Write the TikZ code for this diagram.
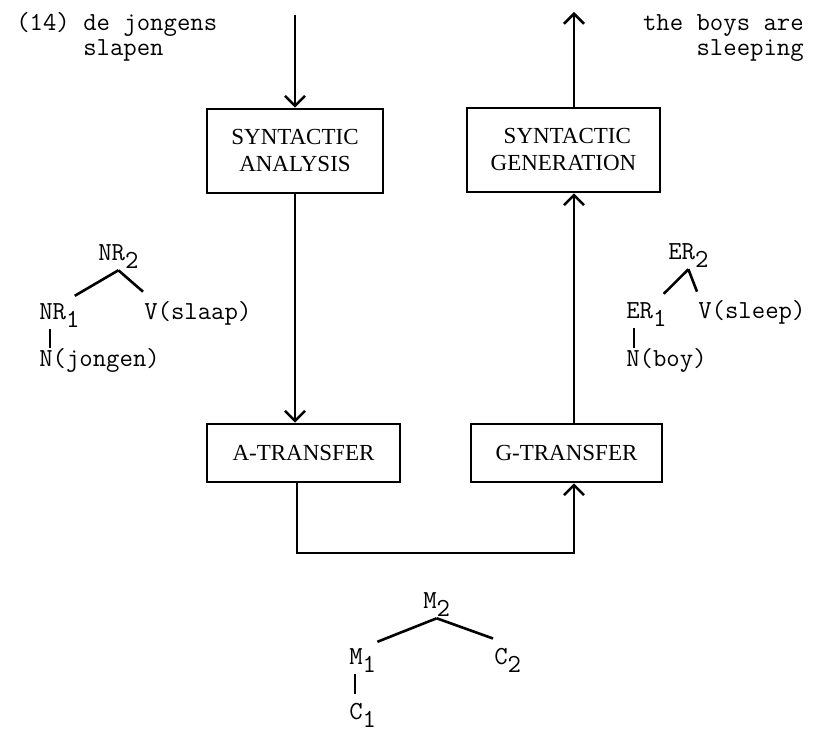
\documentclass[tikz,border=0pt]{standalone}
\usepackage{fontspec}
\newfontfamily\boxfont{Liberation Serif}
\usetikzlibrary{arrows.meta}
\newcommand{\dn}[1]{\raisebox{-4pt}{#1}}

\begin{document}
\begin{tikzpicture}[>= {Straight Barb[length=5pt, width=10pt]}, line width=1.3pt,
		x=0.5pt, y=-0.5pt,
		block/.style={draw, align=center, inner sep=0pt, minimum height=42pt,
			font=\fontsize{11.5}{13.5}\selectfont\boxfont},
		lab/.style={inner sep=0pt, font=\fontsize{13}{15}\selectfont\ttfamily}]
		\useasboundingbox (0,0) rectangle (816,731);

		% columns of the flow
		\coordinate (lcol) at (295,0);
		\coordinate (rcol) at (574,0);
		\coordinate (in) at (295,15);
		\coordinate (out) at (574,12);
		\coordinate (low) at (297,553);

		\node[block, minimum width=88pt] (ana) at (295,151) {SYNTACTIC\\ANALYSIS};
		\node[block, minimum width=96.5pt] (gen) at (563.5,150) {\,\,SYNTACTIC\\GENERATION};
		\node[block, minimum width=96.5pt, minimum height=29pt] (atr) at (303.5,453) {A-TRANSFER};
		\node[block, minimum width=95.5pt, minimum height=29pt] (gtr) at (566.5,453) {G-TRANSFER};

		\draw[->] (in) -- (ana.north);
		\draw[->] (ana.south) -- (ana.south |- atr.north);
		\draw[->] (low |- atr.south) -- (low) -| (gtr.south -| rcol);
		\draw[->] (gtr.north -| rcol) -- (gen.south -| rcol);
		\draw[->] (gen.north -| rcol) -- (out);

		% sentences
		\node[lab, anchor=base west] (num) at (15,31) {(14)};
		\node[lab, anchor=base west] (src) at (82,31) {de jongens};
		\node[lab, anchor=base west] (srcb) at (82,56) {slapen};
		\node[lab, anchor=base east] (tgt) at (805,31) {the boys are};
		\node[lab, anchor=base east] (tgtb) at (805,56) {sleeping};

		% source tree
		\node[lab, anchor=base west] (nr2) at (97,261) {NR\dn{2}};
		\node[lab, anchor=base west] (nr1) at (38,320) {NR\dn{1}};
		\node[lab, anchor=base west] (vsl) at (143,320) {V(slaap)};
		\node[lab, anchor=base west] (njo) at (38,367) {N(jongen)};
		\draw (nr2.south) -- ([xshift=-3pt, yshift=3.5pt]nr1.north east);
		\draw (nr2.south) -- ([yshift=4.5pt]vsl.north west);
		\draw ([xshift=6pt]nr1.south west) -- ([xshift=6pt]njo.north west);

		% target tree
		\node[lab, anchor=base west] (er2) at (667,260) {ER\dn{2}};
		\node[lab, anchor=base west] (er1) at (625,319) {ER\dn{1}};
		\node[lab, anchor=base west] (vsp) at (697,319) {V(sleep)};
		\node[lab, anchor=base west] (nby) at (625,367) {N(boy)};
		\draw (er2.south) -- ([xshift=-2pt, yshift=4pt]er1.north east);
		\draw (er2.south) -- ([yshift=4pt]vsp.north west);
		\draw ([xshift=4.5pt]er1.south west) -- ([xshift=4.5pt]nby.north west);

		% interlingual tree
		\node[lab, anchor=base west] (m2) at (422,609) {M\dn{2}};
		\node[lab, anchor=base west] (m1) at (348,665) {M\dn{1}};
		\node[lab, anchor=base west] (c2) at (493,665) {C\dn{2}};
		\node[lab, anchor=base west] (c1) at (348,720) {C\dn{1}};
		\draw (m2.south) -- ([yshift=3pt]m1.north east);
		\draw (m2.south) -- ([yshift=4.5pt]c2.north west);
		\draw[shorten >=4pt] ([xshift=3.5pt]m1.south west) -- ([xshift=3.5pt]c1.north west);
	\end{tikzpicture}
\end{document}
